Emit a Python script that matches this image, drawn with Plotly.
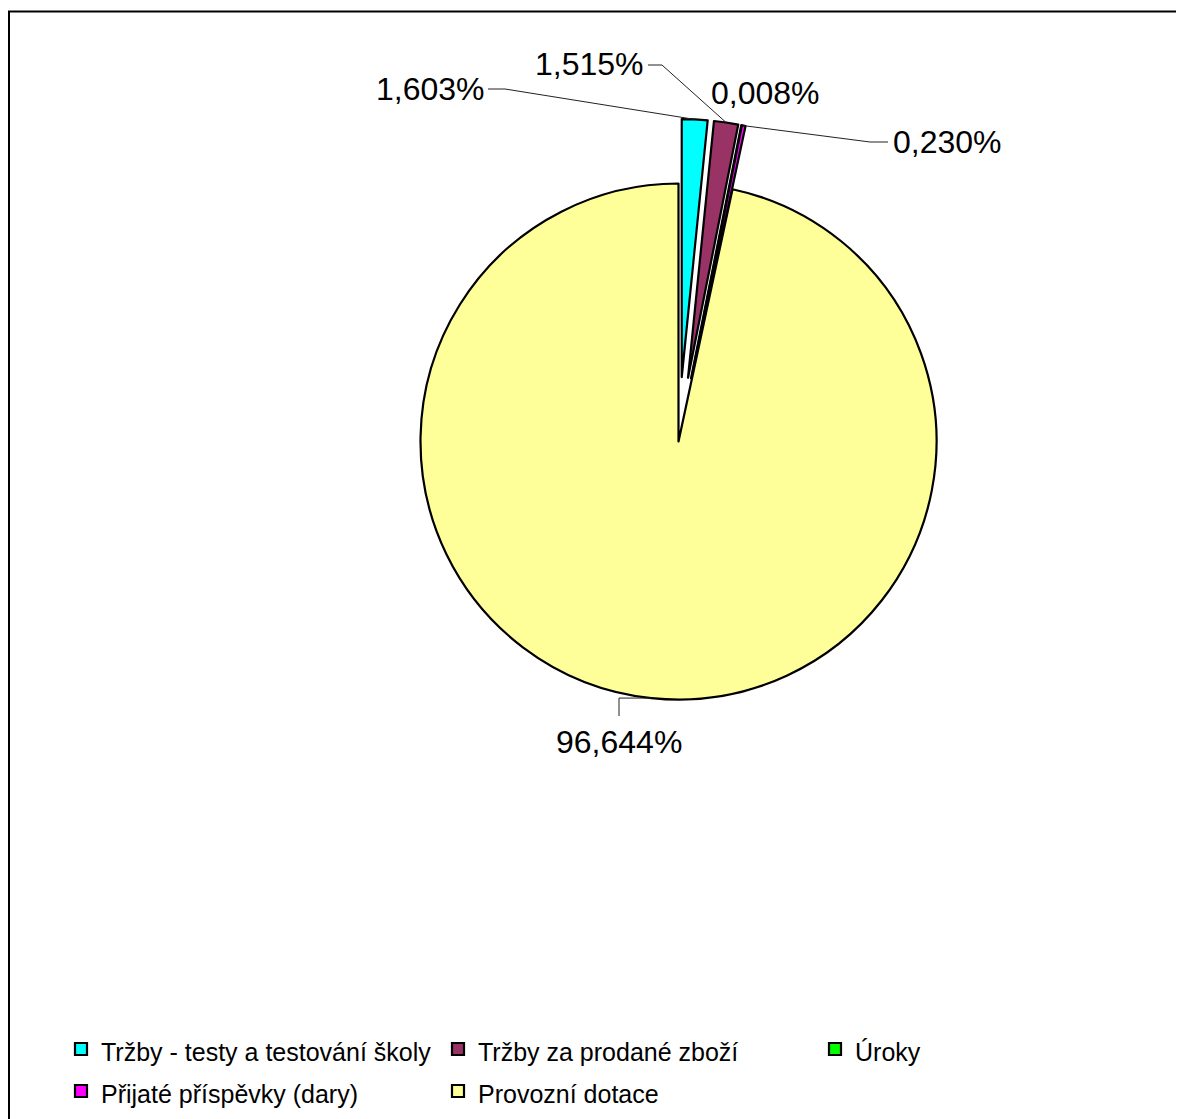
import math
import plotly.graph_objects as go

W, H = 1184, 1119
OFF = 8  # page body margin: reference pixel coords include it

labels = ["Tržby - testy a testování školy", "Tržby za prodané zboží", "Úroky",
          "Přijaté příspěvky (dary)", "Provozní dotace"]
values = [1.603, 1.515, 0.008, 0.230, 96.644]
value_text = ["1,603%", "1,515%", "0,008%", "0,230%", "96,644%"]
colors = ["#00FFFF", "#993366", "#00FF00", "#FF00FF", "#FFFF99"]
pulls = [0.25, 0.25, 0.25, 0.25, 0.0]


def px(x):
    return (x - OFF) / W


def py(y):
    return 1 - (y - OFF) / H


# pie placement (page pixels)
CX, CY, BOX = 678.5, 441.5, 645.0
dom_x = [px(CX - BOX / 2), px(CX + BOX / 2)]
dom_y = [py(CY + BOX / 2), py(CY - BOX / 2)]
R = BOX / (2 + 2 * max(pulls))

legend_labels = [f'<span style="font-size:25px">{l}</span>' for l in labels]

fig = go.Figure()
fig.add_trace(go.Pie(
    labels=legend_labels, values=values, sort=False, direction="clockwise", rotation=0,
    pull=pulls, textinfo="none", hoverinfo="percent",
    marker=dict(colors=colors, line=dict(color="black", width=2.2)),
    domain=dict(x=dom_x, y=dom_y), showlegend=True,
))

# anchor points on slice outer arc mid-angles
total = sum(values)
anchors = []
cum = 0.0
for v, p in zip(values, pulls):
    a0 = cum / total * 2 * math.pi
    cum += v
    a1 = cum / total * 2 * math.pi
    am = (a0 + a1) / 2
    dx, dy = math.sin(am), -math.cos(am)
    cx = CX + p * R * dx
    cy = CY + p * R * dy
    anchors.append((cx + R * dx, cy + R * dy))

label_pos = [
    dict(x=487, y=89, xanchor="right", path=[(488, 89), (505, 89)]),
    dict(x=646, y=64, xanchor="right", path=[(648, 65), (662, 65)]),
    dict(x=709, y=93, xanchor="left", path=None),
    dict(x=891, y=142, xanchor="left", path=[(888, 142), (870, 142)]),
    dict(x=619, y=742, xanchor="center", path="down"),
]

shapes = [dict(type="rect", xref="paper", yref="paper", x0=px(9), x1=px(1210),
               y0=py(1140), y1=py(11.5), line=dict(color="black", width=2),
               fillcolor="rgba(0,0,0,0)", layer="below")]
annotations = []
for i, lp in enumerate(label_pos):
    annotations.append(dict(x=px(lp["x"]), y=py(lp["y"]), xref="paper", yref="paper",
                            text=value_text[i], showarrow=False, xanchor=lp["xanchor"],
                            yanchor="middle",
                            font=dict(family="Liberation Sans, Arial", size=32, color="black")))
    ax, ay = anchors[i]
    if lp["path"] is None:
        continue
    if lp["path"] == "down":
        pts = [(ax, ay), (619, ay), (619, 716)]
    else:
        pts = lp["path"] + [(ax, ay)]
    d = "M " + " L ".join(f"{px(x):.5f},{py(y):.5f}" for x, y in pts)
    shapes.append(dict(type="path", xref="paper", yref="paper", path=d,
                       line=dict(color="#222222", width=1)))

fig.update_layout(
    width=W, height=H, margin=dict(l=0, r=0, t=0, b=0),
    paper_bgcolor="white", plot_bgcolor="white",
    font=dict(family="Liberation Sans, Arial", size=24, color="black"),
    legend=dict(orientation="h", x=px(70), y=py(1023), xanchor="left", yanchor="top",
                entrywidth=332, entrywidthmode="pixels", traceorder="normal",
                font=dict(size=30), itemwidth=30, bgcolor="rgba(0,0,0,0)",
                itemclick=False, itemdoubleclick=False),
    shapes=shapes, annotations=annotations,
)

fig.write_html("out.html")
